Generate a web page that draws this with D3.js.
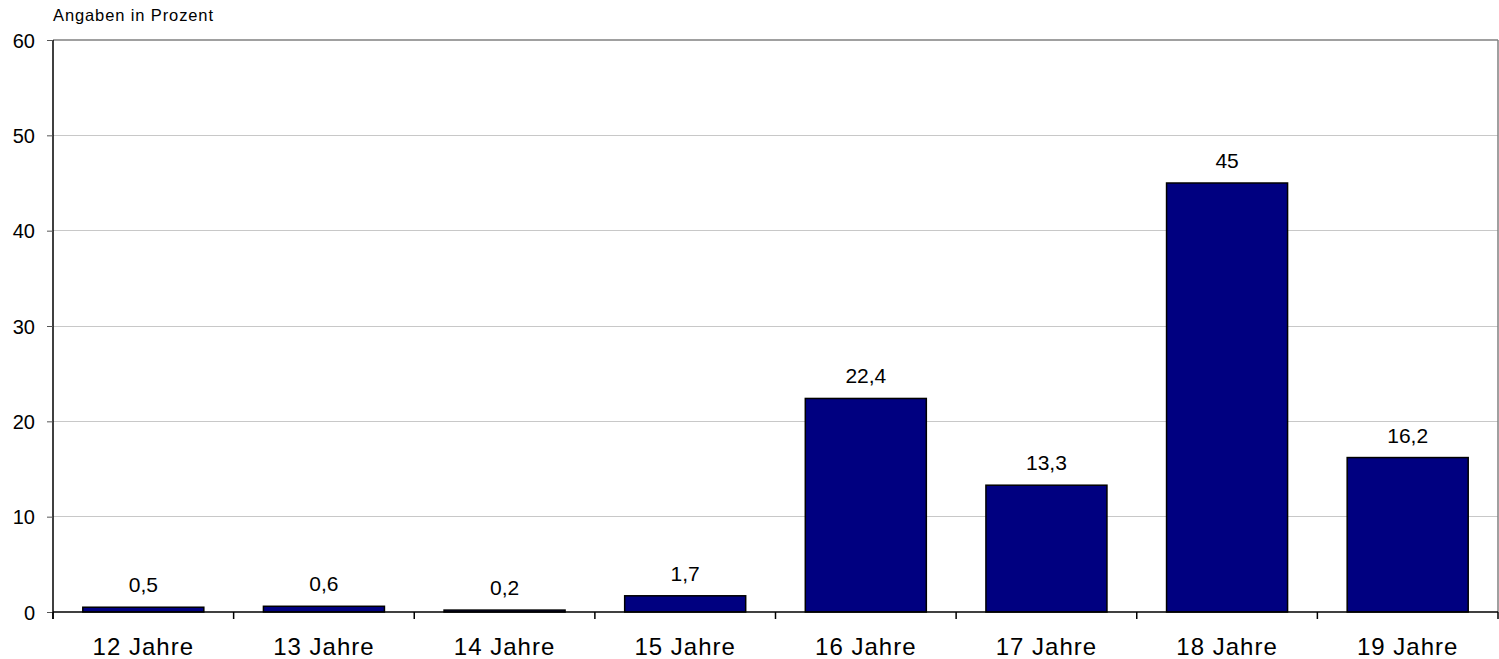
<!DOCTYPE html>
<html><head><meta charset="utf-8">
<script src="https://cdn.jsdelivr.net/npm/d3@7"></script>
<style>body{margin:0;background:#fff}svg{display:block}text{font-family:"Liberation Sans",Arial,sans-serif}</style>
</head><body>
<script>
const categories = ["12 Jahre","13 Jahre","14 Jahre","15 Jahre","16 Jahre","17 Jahre","18 Jahre","19 Jahre"];
const values = [0.5,0.6,0.2,1.7,22.4,13.3,45,16.2];
const valueLabels = ["0,5","0,6","0,2","1,7","22,4","13,3","45","16,2"];
const yTicks = [0,10,20,30,40,50,60];
const unitLabel = "Angaben in Prozent";

const W=1499,H=659, L=53, R=1498, T=40, B=612;
const svg=d3.select("body").append("svg").attr("width",W).attr("height",H);
const x=d3.scaleBand().domain(categories).range([L,R]).paddingInner(0.33).paddingOuter(0.165);
const xb=d3.scaleBand().domain(categories).range([L,R]).padding(0);
const y=d3.scaleLinear().domain([0,60]).range([B,T]);

// gridlines
svg.append("g").selectAll("line").data(yTicks.filter(d=>d>0&&d<60)).join("line")
 .attr("x1",L).attr("x2",R).attr("y1",d=>y(d)).attr("y2",d=>y(d))
 .attr("stroke","#c8c8c8").attr("stroke-width",1).attr("shape-rendering","crispEdges");
// top & right border
svg.append("line").attr("x1",L).attr("x2",R).attr("y1",T).attr("y2",T).attr("stroke","#808080").attr("stroke-width",1.5);
svg.append("line").attr("x1",R).attr("x2",R).attr("y1",T).attr("y2",B).attr("stroke","#808080").attr("stroke-width",1.5);

// bars
svg.append("g").selectAll("rect").data(values).join("rect")
 .attr("x",(d,i)=>x(categories[i])).attr("width",x.bandwidth())
 .attr("y",d=>y(d)).attr("height",d=>B-y(d))
 .attr("fill","#000080").attr("stroke","#000").attr("stroke-width",1.5);

// value labels
svg.append("g").selectAll("text").data(values).join("text")
 .attr("x",(d,i)=>x(categories[i])+x.bandwidth()/2).attr("y",d=>y(d)-15)
 .attr("text-anchor","middle").attr("font-size",21).attr("fill","#000")
 .text((d,i)=>valueLabels[i]);

// y axis
const ya=svg.append("g").attr("transform",`translate(${L},0)`)
 .call(d3.axisLeft(y).tickValues(yTicks).tickSize(6).tickPadding(12).tickFormat(d=>d));
ya.select(".domain").attr("stroke","#000").attr("stroke-width",1.5).attr("d",`M0,${B+7}V${T}`);
ya.selectAll(".tick line").attr("stroke","#555");
ya.selectAll(".tick text").attr("font-size",20).attr("font-family","Liberation Sans, Arial, sans-serif").attr("fill","#000").attr("dy","0.35em");

// x axis
const xa=svg.append("g").attr("transform",`translate(0,${B})`);
xa.append("line").attr("x1",L).attr("x2",R).attr("stroke","#000").attr("stroke-width",1.5);
const bounds=categories.map(c=>xb(c)).concat([R]);
xa.selectAll("line.tk").data(bounds).join("line").attr("class","tk")
 .attr("x1",d=>d).attr("x2",d=>d).attr("y1",0).attr("y2",7).attr("stroke","#000").attr("stroke-width",1.5);
xa.selectAll("text").data(categories).join("text")
 .attr("x",c=>xb(c)+xb.bandwidth()/2).attr("y",43)
 .attr("text-anchor","middle").attr("font-size",24).attr("letter-spacing","1px").attr("fill","#000").text(c=>c);

svg.append("text").attr("x",53).attr("y",21).attr("font-size",16.5)
 .attr("textLength",160).attr("lengthAdjust","spacing").attr("fill","#000").text(unitLabel);
</script>
</body></html>
